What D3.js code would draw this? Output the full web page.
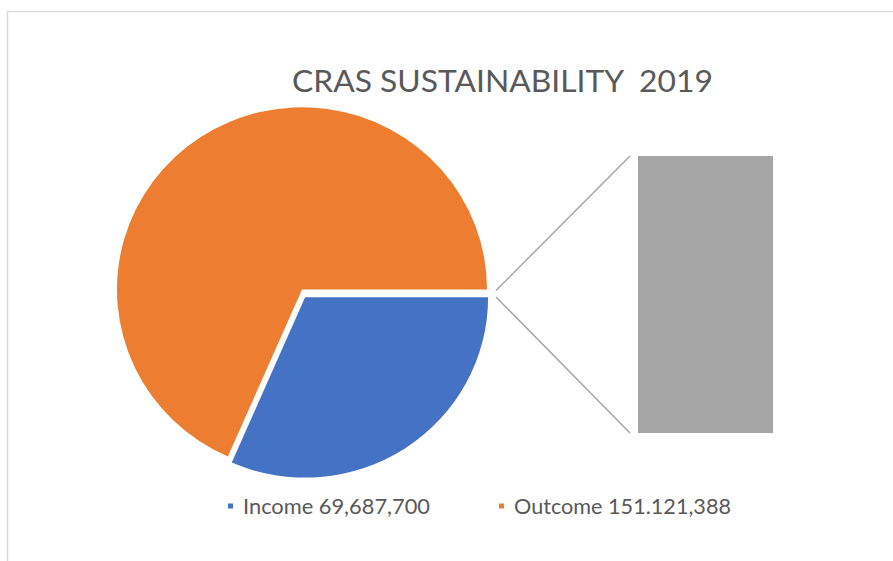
<!DOCTYPE html>
<html>
<head>
<meta charset="utf-8">
<script src="https://cdn.jsdelivr.net/npm/d3@7"></script>
<style>
  html, body { margin: 0; padding: 0; background: #fff; }
  svg { display: block; }
  text { font-family: Lato, "Open Sans", sans-serif; fill: #595959; white-space: pre; }
</style>
</head>
<body>
<svg id="chart" width="893" height="561"></svg>
<script>
const title = "CRAS SUSTAINABILITY  2019";
const categories = ["Income", "Outcome"];
const values = [69687700, 151121388];
const legendLabels = ["Income 69,687,700", "Outcome 151.121,388"];
const colors = ["#4472C4", "#ED7D31"];
const barValues = [values[0]];
const barColor = "#A5A5A5";

const svg = d3.select("#chart");

// chart border
svg.append("rect")
  .attr("x", 7.5).attr("y", 11.5)
  .attr("width", 900).attr("height", 570)
  .attr("fill", "none").attr("stroke", "#D9D9D9").attr("stroke-width", 1.5);

function fitText(sel, targetWidth) {
  const base = 20;
  sel.attr("font-size", base);
  const w = sel.node().getComputedTextLength();
  sel.attr("font-size", base * targetWidth / w);
}

// title
const t = svg.append("text")
  .attr("x", 292).attr("y", 92)
  .text(title);
fitText(t, 421);

// pie
const cx = 302, cy = 289.5, R = 185, yScale = 0.985, explode = 9.5;
const pie = d3.pie().sort(null)
  .startAngle(Math.PI / 2).endAngle(Math.PI / 2 + 2 * Math.PI);
const arcs = pie(values);
const g = svg.append("g")
  .attr("transform", `translate(${cx},${cy}) scale(1,${yScale})`);
const arc = d3.arc().innerRadius(0);

g.selectAll("path.slice").data(arcs).enter().append("path")
  .attr("class", "slice")
  .attr("d", (d, i) => arc.outerRadius(i === 0 ? R - 2 : R)(d))
  .attr("fill", (d, i) => colors[i])
  .attr("transform", (d, i) => {
    if (i !== 0) return null;
    const mid = (d.startAngle + d.endAngle) / 2;
    return `translate(${Math.sin(mid) * explode * 0.6},${-Math.cos(mid) * explode})`;
  });

// secondary bar
const barX0 = 638, barX1 = 773;
const by = d3.scaleLinear().domain([0, d3.sum(barValues)]).range([433, 156]);
svg.append("rect")
  .attr("x", barX0).attr("width", barX1 - barX0)
  .attr("y", by(barValues[0])).attr("height", by(0) - by(barValues[0]))
  .attr("fill", barColor);

// connector lines
const lx0 = cx + R + 9;
svg.append("line")
  .attr("x1", lx0).attr("y1", cy + 1)
  .attr("x2", barX0 - 8).attr("y2", by(barValues[0]))
  .attr("stroke", "#A6A6A6").attr("stroke-width", 1.5);
svg.append("line")
  .attr("x1", lx0).attr("y1", cy + 7.5)
  .attr("x2", barX0 - 8).attr("y2", by(0))
  .attr("stroke", "#A6A6A6").attr("stroke-width", 1.5);

// legend
const legendX = [228, 499];
const textX = [243, 514];
const textW = [187, 217];
legendLabels.forEach((lab, i) => {
  svg.append("rect")
    .attr("x", legendX[i]).attr("y", 503.5)
    .attr("width", 5).attr("height", 5)
    .attr("fill", colors[i]);
  svg.append("text")
    .attr("x", textX[i]).attr("y", 514)
    .attr("font-size", 21.5)
    .attr("textLength", textW[i])
    .attr("lengthAdjust", "spacingAndGlyphs")
    .text(lab);
});
</script>
</body>
</html>
